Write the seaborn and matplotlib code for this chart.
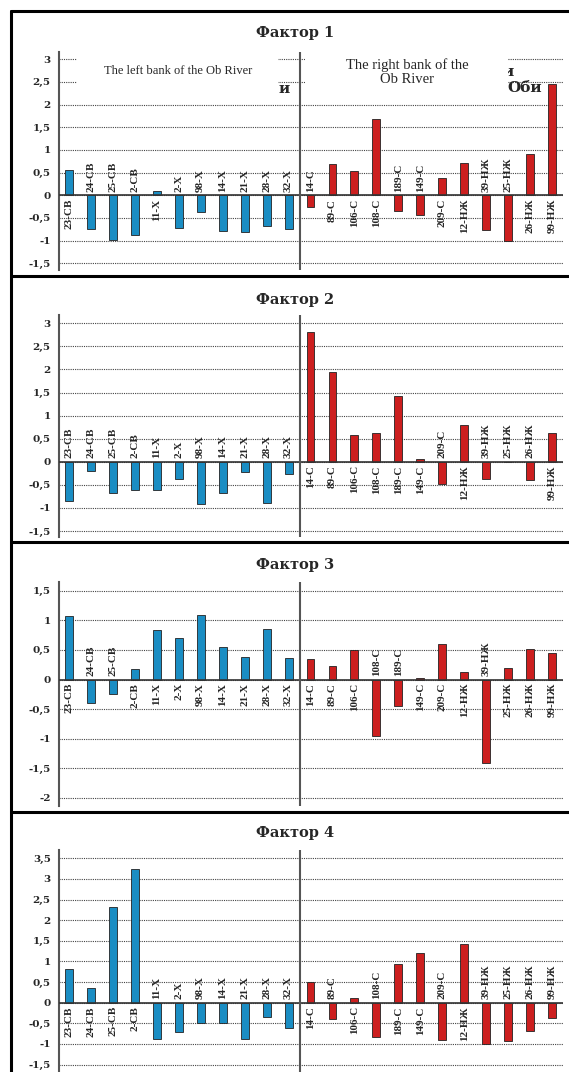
import numpy as np
import pandas as pd
import matplotlib
matplotlib.use("Agg")
import matplotlib.pyplot as plt
from matplotlib.lines import Line2D
from matplotlib.patches import Rectangle
import seaborn as sns

# stations, left bank then right bank
stations_left = ["23-СВ", "24-СВ", "25-СВ", "2-СВ", "11-Х", "2-Х", "98-Х",
                 "14-Х", "21-Х", "28-Х", "32-Х"]
stations_right = ["14-С", "89-С", "106-С", "108-С", "189-С", "149-С", "209-С",
                  "12-НЖ", "39-НЖ", "25-НЖ", "26-НЖ", "99-НЖ"]

factor1 = [0.56, -0.75, -0.98, -0.87, 0.10, -0.73, -0.37, -0.79, -0.82, -0.69, -0.74,
           -0.25, 0.68, 0.54, 1.69, -0.34, -0.44, 0.38, 0.71, -0.76, -1.00, 0.90, 2.46]
factor2 = [-0.85, -0.19, -0.67, -0.61, -0.62, -0.38, -0.91, -0.67, -0.22, -0.90, -0.27,
           2.81, 1.94, 0.59, 0.62, 1.42, 0.07, -0.48, 0.80, -0.37, 0.0, -0.39, 0.62]
factor3 = [1.07, -0.39, -0.24, 0.17, 0.83, 0.71, 1.09, 0.55, 0.38, 0.85, 0.37,
           0.34, 0.23, 0.50, -0.96, -0.45, 0.03, 0.60, 0.12, -1.41, 0.19, 0.51, 0.45]
factor4 = [0.82, 0.35, 2.31, 3.24, -0.87, -0.70, -0.49, -0.49, -0.87, -0.35, -0.61,
           0.49, -0.40, 0.11, -0.82, 0.94, 1.21, -0.91, 1.41, -1.00, -0.92, -0.68, -0.36]

titles = ["Фактор 1", "Фактор 2", "Фактор 3", "Фактор 4"]
factors = [factor1, factor2, factor3, factor4]
ticks = [np.arange(-1.5, 3.01, 0.5), np.arange(-1.5, 3.01, 0.5),
         np.arange(-2, 1.51, 0.5), np.arange(-1.5, 3.51, 0.5)]

sns.set_style("white")
plt.rcParams["font.family"] = ["Liberation Serif", "DejaVu Serif"]

W, H = 569, 1072
fig = plt.figure(figsize=(W / 100, H / 100), dpi=100)


def fx(x):
    return x / W


def fy(y):
    return 1 - y / H


# panel geometry in pixels: axes top, axes bottom, ylim, title y
panels = [
    (52, 270, (-1.65, 3.16), 33),
    (315, 537, (-1.63, 3.18), 300),
    (582, 806, (-2.14, 1.65), 565),
    (850, 1072, (-1.68, 3.70), 833),
]

stations = stations_left + stations_right
banks = ["left"] * len(stations_left) + ["right"] * len(stations_right)
palette = {"left": "#1a8dc3", "right": "#cc1f1f"}

ax_left, ax_right = 59, 563
for k, (top, bottom, ylim, ty) in enumerate(panels):
    ax = fig.add_axes([fx(ax_left), fy(bottom), fx(ax_right - ax_left), (bottom - top) / H])
    df = pd.DataFrame({"station": stations, "value": factors[k], "bank": banks})
    sns.barplot(data=df, x="station", y="value", hue="bank", order=stations,
                palette=palette, saturation=1, dodge=False, width=0.36,
                edgecolor="#222222", linewidth=0.6, legend=False, ax=ax, zorder=3)
    ax.set_xlim(-0.456, 22.5)
    ax.set_ylim(*ylim)
    ax.set_yticks(ticks[k])
    ax.set_yticklabels([f"{t:g}".replace(".", ",") for t in ticks[k]],
                       fontsize=7.5, fontweight="bold", family="DejaVu Serif")
    ax.tick_params(axis="y", length=0, pad=6)
    ax.set_xticks([])
    ax.set_xlabel("")
    ax.set_ylabel("")
    ax.yaxis.grid(True, linestyle=(0, (1, 1)), color="#444444", linewidth=0.8)
    ax.set_axisbelow(True)
    for s in ["top", "right", "bottom"]:
        ax.spines[s].set_visible(False)
    ax.spines["left"].set_color("#555555")
    ax.spines["left"].set_linewidth(1.5)
    ax.axhline(0, color="#333333", linewidth=1.2, zorder=4)
    ax.axvline(10.5, color="#555555", linewidth=1.5, zorder=4)

    for i, (name, v) in enumerate(zip(stations, factors[k])):
        if v <= 0:
            ax.annotate(name, (i, 0), xytext=(0, 2.5), textcoords="offset points",
                        rotation=90, ha="center", va="bottom", fontsize=8,
                        fontweight="bold", zorder=5)
        else:
            ax.annotate(name, (i, 0), xytext=(0, -2.5), textcoords="offset points",
                        rotation=90, ha="center", va="top", fontsize=8,
                        fontweight="bold", zorder=5)

    fig.text(fx(295), fy(ty), titles[k], ha="center", va="center",
             fontsize=10.5, fontweight="bold", family="DejaVu Serif")

# panel frames
for y in [11, 276, 542, 812]:
    fig.add_artist(Line2D([fx(11), fx(W + 5)], [fy(y), fy(y)], color="black",
                          linewidth=2.2, transform=fig.transFigure))
fig.add_artist(Line2D([fx(11), fx(11)], [fy(11), fy(H + 5)], color="black",
                      linewidth=2.2, transform=fig.transFigure))

# bits of the original Russian captions that peek out from under the English labels
fig.text(fx(284), fy(89), "и", ha="center", va="center", fontsize=11,
         fontweight="bold", family="DejaVu Serif", zorder=9)
fig.text(fx(503), fy(72), "и", ha="left", va="center", fontsize=11,
         fontweight="bold", family="DejaVu Serif", zorder=9)
fig.text(fx(507), fy(88), "Оби", ha="left", va="center", fontsize=11,
         fontweight="bold", family="DejaVu Serif", zorder=9)

fig.add_artist(Rectangle((fx(77), fy(98)), fx(201), (98 - 58) / H, facecolor="white",
                         edgecolor="none", transform=fig.transFigure, zorder=10))
fig.add_artist(Rectangle((fx(305), fy(103)), fx(203), (103 - 50) / H, facecolor="white",
                         edgecolor="none", transform=fig.transFigure, zorder=10))
fig.text(fx(178), fy(71), "The left bank of the Ob River", ha="center", va="center",
         fontsize=9, zorder=11)
fig.text(fx(407), fy(72), "The right bank of the\nOb River", ha="center", va="center",
         fontsize=10.5, linespacing=1.15, zorder=11)

fig.savefig("out.png", dpi=100)
